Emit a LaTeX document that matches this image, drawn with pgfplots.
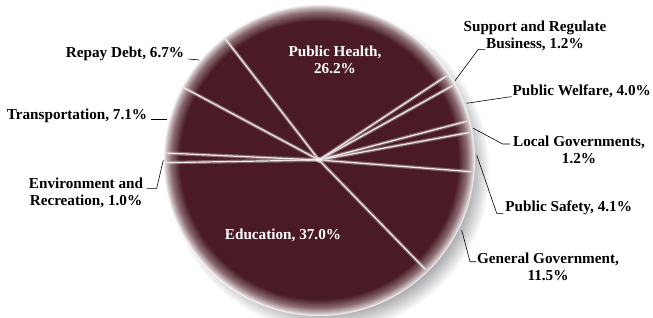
\documentclass[border=0pt]{standalone}
\usepackage{fontspec}
\setmainfont{Liberation Serif}
\usepackage{pgfplots}
\usepackage{pgfplotstable}
\pgfplotsset{compat=1.18}

\definecolor{piec}{HTML}{4A1B24}
\definecolor{shc}{RGB}{160,160,165}
\pgfdeclareradialshading{pierim}{\pgfpoint{0bp}{0bp}}{color(0bp)=(piec); color(22.3bp)=(piec); color(23.7bp)=(piec!65!white); color(24.5bp)=(piec!30!white); color(25bp)=(white); color(50bp)=(white)}
\pgfdeclareradialshading{pieshadow}{\pgfpoint{0bp}{0bp}}{color(0bp)=(shc); color(21.5bp)=(shc); color(23.3bp)=(shc!50!white); color(25bp)=(white); color(50bp)=(white)}

% slices, counter-clockwise starting at 181 degrees
\pgfplotstableread{
label value
Education 37.0
GeneralGovernment 11.5
PublicSafety 4.1
LocalGovernments 1.2
PublicWelfare 4.0
SupportBusiness 1.2
PublicHealth 26.2
RepayDebt 6.7
Transportation 7.1
Environment 1.0
}\piedata

\def\acc{181}
\expandafter\xdef\csname pieA0\endcsname{181}
\pgfplotsforeachungrouped \i in {0,...,9}{%
  \pgfplotstablegetelem{\i}{value}\of\piedata
  \pgfmathsetmacro\acc{\acc+3.6*\pgfplotsretval}%
  \pgfmathtruncatemacro\j{\i+1}%
  \expandafter\xdef\csname pieA\j\endcsname{\acc}%
}

\begin{document}
\begin{tikzpicture}[
  lab/.style={font=\bfseries\fontsize{15.2}{17}\selectfont, align=center, inner sep=0pt},
  lead/.style={black, line width=0.6pt},
]
\begin{axis}[
  name=ax,
  scale only axis, width=653pt, height=317pt,
  xmin=0, xmax=653, ymin=0, ymax=317,
  hide axis,
]
\pgfplotsextra{%
  % drop shadow
  \shade[shading=pieshadow] (axis cs:328,147) circle[radius=162pt];
  % slices
  \foreach \i in {0,...,9}{%
    \pgfmathtruncatemacro\j{\i+1}%
    \edef\aa{\csname pieA\i\endcsname}\edef\bb{\csname pieA\j\endcsname}%
    \begin{scope}
      \clip (axis cs:319,157) -- ++(\aa:170pt) arc[start angle=\aa, end angle=\bb, radius=170pt] -- cycle;
      \shade[shading=pierim] (axis cs:319,157) circle[radius=156pt];
    \end{scope}
  }
  % separators
  \foreach \i in {0,...,9}{%
    \edef\aa{\csname pieA\i\endcsname}%
    \draw[piec!30!white, line width=3.6pt, opacity=0.45] (axis cs:319,157) -- ++(\aa:151pt);
    \draw[white!92!piec, line width=1.2pt] (axis cs:319,157) -- ++(\aa:153pt);
  }
  \fill[white, opacity=0.5] (axis cs:319,157) circle[radius=3pt];
}
% labels
\node[lab, white] at (axis cs:335,257) {Public Health,\\26.2\%};
\node[lab, white] at (axis cs:283,82) {Education, 37.0\%};
\node[lab] at (axis cs:535,281.5) {Support and Regulate\\Business, 1.2\%};
\draw[lead] (axis cs:455,236.3) -- (axis cs:478.3,267.7) -- (axis cs:485,267.7);
\node[lab] at (axis cs:581.7,226) {Public Welfare, 4.0\%};
\draw[lead] (axis cs:466.7,213.7) -- (axis cs:506.7,219.7) -- (axis cs:511.7,220.3);
\node[lab] at (axis cs:579,167) {Local Governments,\\1.2\%};
\draw[lead] (axis cs:473.3,188.7) -- (axis cs:502.7,173) -- (axis cs:510,173);
\node[lab] at (axis cs:568.7,109) {Public Safety, 4.1\%};
\draw[lead] (axis cs:476.7,162) -- (axis cs:496.7,103.7) -- (axis cs:503.3,103.7);
\node[lab] at (axis cs:548,50) {General Government,\\11.5\%};
\draw[lead] (axis cs:461.7,87) -- (axis cs:470,55.3) -- (axis cs:476,55.3);
\node[lab] at (axis cs:86,124) {Environment and\\Recreation, 1.0\%};
\draw[lead] (axis cs:163.3,157) -- (axis cs:156.7,128.7) -- (axis cs:146.7,128.7);
\node[lab] at (axis cs:77,201) {Transportation, 7.1\%};
\draw[lead] (axis cs:150.7,198) -- (axis cs:166.7,198);
\node[lab] at (axis cs:125,262.7) {Repay Debt, 6.7\%};
\draw[lead] (axis cs:188.3,258) -- (axis cs:199.3,257);
\end{axis}
\pgfresetboundingbox
\path (ax.south west) rectangle (ax.north east);
\end{tikzpicture}
\end{document}
